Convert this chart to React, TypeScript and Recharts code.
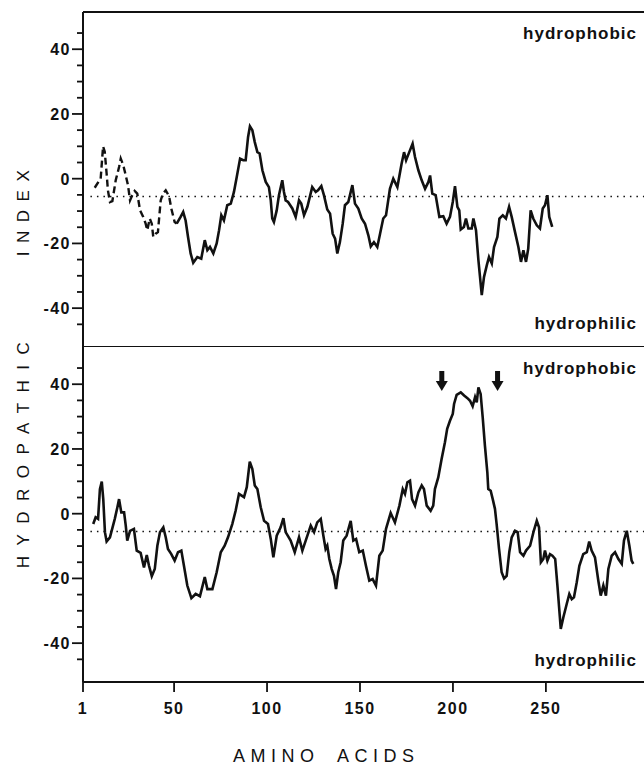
import { LineChart, Line, XAxis, YAxis, ReferenceLine, ReferenceDot } from 'recharts';

// residue numbers (x) and hydropathic index values (y)
const topDashedRes = [7.3, 9.6, 10.5, 11.8, 12.7, 13.7, 14.4, 15.5, 16.8, 18.6, 20.4, 21.3, 22.7, 24, 25.2, 26.3, 27.5, 28.8, 30.2, 31.7, 33.4, 34.7, 35.6, 36.9, 38, 38.8, 40.1, 41.3, 42.8, 44, 45.5, 47.3, 48.5, 50.3, 51.4];
const topDashedVal = [-2.8, -0.7, 0, 10, 8.3, 1.6, -3.6, -7.2, -6.9, -0.5, 3.6, 6.2, 4.1, 1, -2, -6.7, -5.1, -3.8, -4.6, -9.8, -11.8, -13.9, -15.9, -12.3, -13.9, -18, -17, -16.5, -6.7, -4.6, -3.6, -5.4, -9.2, -13.4, -13.9];

const topSolidRes = [51.4, 53.5, 54.9, 56.2, 57.5, 58.9, 60.3, 62.5, 64.6, 66.5, 67.9, 69.3, 71.1, 72.9, 74.2, 75.4, 76.8, 78.6, 80.5, 82.2, 83.7, 85.5, 87.2, 88.5, 89.8, 90.8, 92.1, 93.4, 94.8, 96, 97.5, 99.3, 101, 102, 102.8, 103.7, 105.2, 106.4, 108.2, 109.1, 110, 111.3, 113.6, 115.4, 117.2, 118.4, 119.9, 121.7, 124.3, 126.2, 127.4, 129.2, 130.6, 132.4, 133.9, 135.3, 136.6, 137.8, 139.2, 140.7, 141.9, 143.7, 145.9, 147.3, 149.1, 150.9, 152.7, 154.5, 155.8, 157.5, 159.3, 160.8, 162.5, 164, 166.1, 167.9, 170.1, 172.4, 173.7, 174.8, 176.5, 178.3, 179.6, 181.4, 183.2, 185, 186.8, 187.7, 188.9, 190.7, 192.7, 194.8, 196.6, 198.4, 199.9, 201.1, 202.4, 203.4, 204.2, 205.9, 207, 208.3, 210.1, 211, 212.4, 213.7, 215.5, 216.7, 218.2, 219.4, 220.9, 222.1, 223.9, 225, 226.8, 228.5, 230.2, 231.6, 233.4, 235.2, 236.6, 237.9, 239.3, 240.5, 241.8, 243.2, 245.1, 246.8, 248.3, 249.5, 250.8, 251.8, 253.4];
const topSolidVal = [-13.9, -11.8, -10.3, -12.9, -18, -23.1, -26, -24.2, -24.7, -19, -22.1, -21.1, -23.1, -20, -15.9, -11.3, -12.9, -8.2, -7.7, -4.1, 0.5, 6.2, 5.7, 5.7, 12.9, 16.2, 15, 11.3, 8.2, 7.8, 2.6, -1, -2.6, -6.7, -12.3, -13.4, -9.8, -5.1, -0.5, -4.1, -6.7, -7.2, -9.2, -11.8, -6.7, -7.7, -11.3, -8.7, -2.6, -4.1, -3.6, -2.3, -5.1, -9.5, -10.8, -17, -18.5, -23.1, -19.6, -13.9, -8.2, -7.2, -2, -7.7, -9.2, -12.3, -13.9, -17.5, -20.9, -19.6, -21.1, -17, -12.3, -11.3, -3.1, 0, -2.6, 4.7, 8.2, 5.7, 8.2, 10.8, 6.7, 2.6, -0.5, -3.1, -1, 1, -4.6, -5.1, -11.8, -11.6, -13.9, -11.8, -7.2, -2.3, -8.7, -9.8, -15.7, -14.9, -12.3, -15.4, -15.4, -12.3, -15.9, -25.2, -36, -30.4, -26.8, -24.2, -26.2, -21.1, -18, -12.3, -11.3, -12.3, -8.7, -11.8, -16.5, -21.1, -25.7, -22.1, -25.7, -21.6, -9.8, -12.3, -14.4, -15.4, -9.2, -8.2, -5.1, -11.8, -14.9];

const bottomRes = [6.5, 7.8, 9.1, 10.1, 11.1, 11.9, 12.8, 13.7, 15.5, 18.1, 19.5, 20.4, 21.6, 23.1, 24, 24.8, 26.3, 28.4, 29.9, 32, 33.8, 35.3, 36.5, 38, 39.6, 41, 42.4, 44.2, 45.5, 46.7, 48.5, 50.3, 52.1, 53.9, 55.3, 57.1, 59.3, 61.6, 63.9, 66.5, 67.9, 70.6, 72.9, 75.1, 77.2, 79, 81.3, 83.1, 84.9, 87.6, 89.1, 90.7, 92.1, 93.4, 94.8, 96.6, 98.4, 100.5, 102, 103.4, 105.2, 107.3, 108.8, 110, 112.7, 114.9, 117.2, 119, 120.8, 123.5, 125.3, 127, 128.9, 130.3, 131.5, 132.4, 133.5, 134.8, 136, 137.1, 138.3, 139.6, 141, 142.8, 145, 146.4, 147.9, 149.6, 151.5, 153.2, 155, 156.8, 158.6, 160.4, 162.2, 164, 166.5, 168.8, 171.2, 173, 174.2, 175.5, 176.9, 178, 179.6, 181.4, 183.2, 184.4, 185.9, 188, 189.4, 190.3, 192.1, 193.9, 195.7, 196.9, 198.4, 199.9, 200.6, 202, 204.2, 206, 207.8, 209.2, 210.6, 211.9, 212.8, 213.7, 214.9, 216, 217.2, 218.5, 219, 220.3, 221.4, 222.6, 223.5, 224.8, 226.2, 227.5, 228.9, 230.3, 231.6, 233.4, 234.8, 236.1, 237.9, 239.3, 241.5, 243.3, 245.1, 246.3, 247.3, 248.6, 249.5, 250.8, 252.2, 253.5, 255, 256.2, 258, 259.4, 261.2, 262.6, 263.9, 265.1, 266.6, 268, 270.1, 272, 273.3, 274.6, 276.4, 278.2, 279.5, 280.9, 282.3, 283.6, 285.4, 287.2, 289, 290.8, 292, 293.5, 294.9, 296.1, 297];
const bottomVal = [-3.2, -1.1, -1.6, 7.6, 9.9, 4.5, -5.7, -8.6, -7.3, -1.6, 2, 4.5, 0.4, 0.4, -3.7, -8.3, -5.3, -4.7, -11.4, -12.1, -16.6, -12.8, -16.1, -19.3, -17.1, -9.9, -5.7, -4.2, -7.3, -10.9, -12.5, -14.5, -11.9, -11.4, -16.1, -22.2, -26.1, -24.8, -25.5, -19.6, -23.3, -23.3, -18.1, -11.9, -9.9, -7.3, -3.2, 0.9, 6.1, 5.1, 8.2, 16.1, 13.8, 8.7, 7.6, 2, -2.2, -3.2, -7.8, -13.5, -6.8, -4.2, -1.4, -5.7, -8.3, -11.9, -7.3, -11.4, -8.3, -3.7, -5.7, -2.7, -1.6, -6.8, -10.9, -9.9, -14, -17.1, -19.2, -23.3, -18.1, -15, -8.3, -6.8, -2.2, -8.3, -7.8, -11.9, -11.4, -16.1, -20.7, -20.2, -22.2, -13, -11.4, -4.7, 0.2, -2.7, 2.5, 7.6, 6.1, 9.7, 10.2, 4.5, 2.5, 6.6, 8.7, 7.6, 2.5, 0.9, 2.5, 7.6, 11.2, 16.9, 22.1, 26.2, 28.7, 30.8, 33.9, 36.7, 37.5, 36.5, 35.7, 34.9, 33.2, 36, 34.4, 39, 37, 29.8, 21, 12.8, 7.6, 7.1, 4.5, 1.5, -3.2, -10.9, -18.1, -20, -19.2, -11.9, -7.3, -5.3, -5.7, -11.9, -13, -11.4, -9.9, -5.7, -2.2, -4.2, -15, -14, -11.4, -14.5, -12.5, -13, -14, -22.2, -35.6, -32, -27.9, -24.8, -26.4, -25.8, -21.2, -16.1, -12.5, -11.9, -8.6, -11.4, -13.5, -20.7, -25.3, -22.2, -25.3, -17.1, -13, -11.9, -14, -15.5, -8.3, -5.3, -9.9, -14.5, -15.5];

const xTicks = [1, 50, 100, 150, 200, 250];
const yTicks = [-45, -40, -35, -30, -25, -20, -15, -10, -5, 0, 5, 10, 15, 20, 25, 30, 35, 40, 45];
const midline = -5.5;
const arrowRes = [194, 224];
const arrowVal = 41;

const xDomain = [1, 306];
const yDomain = [-52, 51.5];
const ink = '#111';
const font = '"Liberation Sans", Arial, sans-serif';

const toPoints = (res: number[], val: number[]) => res.map((r, i) => ({ r, v: val[i] }));

function YTick(props: any) {
  const { x, y, payload } = props;
  const major = payload.value % 20 === 0;
  return (
    <g>
      <line x1={x - (major ? 11 : 6)} x2={x} y1={y} y2={y} stroke={ink} strokeWidth={1.8} />
      {major && (
        <text x={x - 12} y={y + 6} textAnchor="end" fontFamily={font} fontWeight="bold" fontSize={16} letterSpacing={1.5} fill={ink}>
          {payload.value}
        </text>
      )}
    </g>
  );
}

function XTick(props: any) {
  const { x, y, payload } = props;
  return (
    <g>
      <line x1={x} x2={x} y1={y} y2={y + 10} stroke={ink} strokeWidth={1.8} />
      <text x={x} y={y + 32} textAnchor="middle" fontFamily={font} fontWeight="bold" fontSize={16} letterSpacing={1.5} fill={ink}>
        {payload.value}
      </text>
    </g>
  );
}

function Arrow(props: any) {
  const { cx, cy } = props;
  return (
    <g fill={ink}>
      <rect x={cx - 2.5} y={cy - 10} width={5} height={11} />
      <path d={`M${cx - 6},${cy} L${cx + 6},${cy} L${cx},${cy + 10} Z`} />
    </g>
  );
}

function Panel({ children, height, withTicks, topBorder }: any) {
  return (
    <LineChart width={650} height={height} margin={{ top: topBorder ? 12 : 0, right: 0, bottom: 0, left: 0 }}>
      <XAxis
        xAxisId="b"
        dataKey="r"
        type="number"
        domain={xDomain}
        allowDataOverflow
        ticks={xTicks}
        interval={0}
        height={withTicks ? 40 : 0}
        tick={withTicks ? <XTick /> : false}
        tickLine={false}
        tickSize={0}
        tickMargin={0}
        axisLine={withTicks ? { stroke: ink, strokeWidth: 2 } : false}
      />
      <YAxis
        type="number"
        domain={yDomain}
        allowDataOverflow
        ticks={yTicks}
        interval={0}
        width={83}
        tick={<YTick />}
        tickLine={false}
        tickSize={0}
        tickMargin={0}
        axisLine={{ stroke: ink, strokeWidth: 2 }}
      />
      {topBorder && (
        <ReferenceLine xAxisId="b" y={yDomain[1]} stroke={ink} strokeWidth={2} ifOverflow="visible" />
      )}
      {topBorder && (
        <ReferenceLine xAxisId="b" y={yDomain[0]} stroke={ink} strokeWidth={2} ifOverflow="visible" />
      )}
      <ReferenceLine
        xAxisId="b"
        segment={[{ x: 5, y: midline }, { x: 306, y: midline }]}
        stroke={ink}
        strokeWidth={1.5}
        strokeDasharray="1.5 5"
      />
      {children}
    </LineChart>
  );
}

export default function App() {
  return (
    <div style={{ position: 'absolute', left: 0, top: 0, width: 644, height: 766, overflow: 'hidden', background: '#fff' }}>
      <div style={{ position: 'absolute', left: 0, top: 0 }}>
        <Panel height={347} topBorder>
          <Line
            xAxisId="b"
            data={toPoints(topDashedRes, topDashedVal)}
            dataKey="v"
            type="linear"
            stroke={ink}
            strokeWidth={2.4}
            strokeDasharray="7 4"
            dot={false}
            isAnimationActive={false}
          />
          <Line
            xAxisId="b"
            data={toPoints(topSolidRes, topSolidVal)}
            dataKey="v"
            type="linear"
            stroke={ink}
            strokeWidth={2.6}
            dot={false}
            isAnimationActive={false}
          />
        </Panel>
      </div>
      <div style={{ position: 'absolute', left: 0, top: 347 }}>
        <Panel height={375} withTicks>
          <Line
            xAxisId="b"
            data={toPoints(bottomRes, bottomVal)}
            dataKey="v"
            type="linear"
            stroke={ink}
            strokeWidth={2.6}
            dot={false}
            isAnimationActive={false}
          />
          {arrowRes.map((r) => (
            <ReferenceDot key={r} xAxisId="b" x={r} y={arrowVal} r={0} shape={<Arrow />} />
          ))}
        </Panel>
      </div>
      <svg width={644} height={766} style={{ position: 'absolute', left: 0, top: 0, pointerEvents: 'none' }}>
        <g fontFamily={font} fontWeight="bold" fontSize={17} letterSpacing={1} fill={ink} textAnchor="end">
          <text x={637} y={39}>hydrophobic</text>
          <text x={637} y={329}>hydrophilic</text>
          <text x={637} y={374}>hydrophobic</text>
          <text x={637} y={666}>hydrophilic</text>
        </g>
        <g fontFamily={font} fontSize={18} letterSpacing={5.5} fill={ink}>
          <text x={233} y={762}>AMINO</text>
          <text x={337} y={762}>ACIDS</text>
        </g>
        <g fontFamily={font} fontSize={17} fill={ink} textAnchor="middle">
          <text transform="translate(29, 450) rotate(-90)" letterSpacing={10.5}>HYDROPATHIC</text>
          <text transform="translate(29, 209) rotate(-90)" letterSpacing={8.5}>INDEX</text>
        </g>
      </svg>
    </div>
  );
}
